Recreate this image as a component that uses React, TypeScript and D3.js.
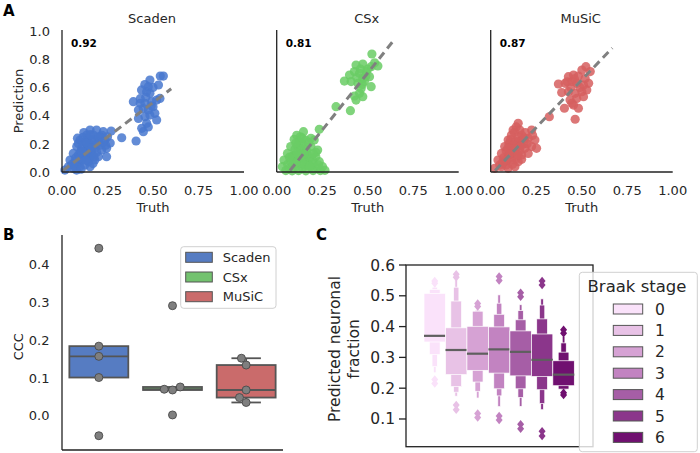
import React from "react";
import * as d3 from "d3";

const FONT = "DejaVu Sans, Verdana, sans-serif";

// ---------- Panel A data ----------
const scatterMethods = ["Scaden", "CSx", "MuSiC"];
const scatterCorr = ["0.92", "0.81", "0.87"];
const scatterColors = ["#4878CF", "#6ACC65", "#D65F5F"];
const axisTicksA = [0, 0.25, 0.5, 0.75, 1.0];
const axisTicksAY = [0, 0.2, 0.4, 0.6, 0.8, 1.0];

const scadenPoints: [number, number][] = [
  [0.540, 0.680], [0.557, 0.680], [0.483, 0.652], [0.474, 0.605], [0.530, 0.617], [0.437, 0.582],
  [0.465, 0.570], [0.483, 0.558], [0.392, 0.499], [0.430, 0.487], [0.456, 0.487], [0.493, 0.500],
  [0.520, 0.510], [0.538, 0.522], [0.420, 0.440], [0.447, 0.450], [0.474, 0.440], [0.500, 0.463],
  [0.420, 0.380], [0.456, 0.392], [0.483, 0.404], [0.520, 0.369], [0.510, 0.416], [0.438, 0.310],
  [0.474, 0.320], [0.447, 0.286], [0.465, 0.345], [0.328, 0.243], [0.407, 0.220], [0.460, 0.530],
  [0.490, 0.470], [0.430, 0.520], [0.500, 0.600], [0.455, 0.620],
  [0.227, 0.286], [0.190, 0.298], [0.154, 0.298], [0.172, 0.262], [0.209, 0.250], [0.136, 0.262],
  [0.099, 0.227], [0.126, 0.215], [0.163, 0.227], [0.200, 0.215], [0.236, 0.227], [0.245, 0.168],
  [0.081, 0.180], [0.108, 0.168], [0.145, 0.180], [0.181, 0.168], [0.218, 0.156], [0.062, 0.132],
  [0.090, 0.120], [0.126, 0.132], [0.163, 0.120], [0.200, 0.109], [0.245, 0.109], [0.044, 0.085],
  [0.071, 0.073], [0.108, 0.085], [0.145, 0.073], [0.180, 0.085], [0.035, 0.038], [0.062, 0.026],
  [0.099, 0.038], [0.154, 0.038], [0.080, 0.014], [0.016, 0.014], [0.090, 0.203], [0.117, 0.190],
  [0.150, 0.200], [0.185, 0.195], [0.210, 0.190], [0.130, 0.150], [0.160, 0.145], [0.190, 0.140],
  [0.100, 0.140], [0.075, 0.100], [0.115, 0.105], [0.150, 0.100], [0.055, 0.055], [0.090, 0.060],
  [0.125, 0.050], [0.170, 0.060], [0.140, 0.240], [0.175, 0.235], [0.115, 0.245], [0.220, 0.260],
  [0.270, 0.290], [0.250, 0.250], [0.265, 0.205], [0.240, 0.190], [0.120, 0.280], [0.085, 0.240],
  [0.135, 0.205], [0.165, 0.170], [0.140, 0.125], [0.110, 0.145], [0.175, 0.110], [0.095, 0.095],
  [0.130, 0.085], [0.070, 0.045], [0.105, 0.020], [0.200, 0.250], [0.155, 0.265], [0.225, 0.210],
];
const csxPoints: [number, number][] = [
  [0.523, 0.837], [0.436, 0.759], [0.473, 0.766], [0.519, 0.747], [0.556, 0.752], [0.538, 0.775],
  [0.400, 0.688], [0.427, 0.712], [0.455, 0.700], [0.492, 0.712], [0.510, 0.676], [0.473, 0.664],
  [0.372, 0.645], [0.409, 0.641], [0.446, 0.629], [0.482, 0.641], [0.464, 0.593], [0.519, 0.605],
  [0.455, 0.558], [0.473, 0.534], [0.436, 0.510], [0.427, 0.539], [0.326, 0.463], [0.405, 0.435],
  [0.460, 0.730], [0.500, 0.730], [0.440, 0.670], [0.490, 0.680], [0.470, 0.620],
  [0.234, 0.303], [0.147, 0.286], [0.188, 0.239], [0.096, 0.232], [0.123, 0.215], [0.160, 0.227],
  [0.206, 0.227], [0.077, 0.180], [0.114, 0.184], [0.151, 0.168], [0.188, 0.180], [0.225, 0.156],
  [0.059, 0.132], [0.096, 0.120], [0.133, 0.132], [0.170, 0.120], [0.215, 0.109], [0.234, 0.073],
  [0.040, 0.085], [0.077, 0.073], [0.114, 0.085], [0.160, 0.073], [0.197, 0.085], [0.031, 0.038],
  [0.068, 0.026], [0.105, 0.038], [0.142, 0.026], [0.188, 0.038], [0.225, 0.026], [0.252, 0.038],
  [0.130, 0.250], [0.110, 0.260], [0.140, 0.200], [0.175, 0.205], [0.100, 0.160], [0.130, 0.165],
  [0.165, 0.150], [0.085, 0.110], [0.120, 0.100], [0.150, 0.095], [0.180, 0.100], [0.060, 0.055],
  [0.090, 0.050], [0.125, 0.060], [0.160, 0.050], [0.200, 0.060], [0.050, 0.010], [0.085, 0.008],
  [0.120, 0.010], [0.160, 0.008], [0.200, 0.010], [0.240, 0.010], [0.265, 0.012], [0.215, 0.140],
  [0.105, 0.205], [0.140, 0.240], [0.155, 0.130], [0.200, 0.130], [0.110, 0.135], [0.140, 0.060],
  [0.180, 0.040], [0.105, 0.065], [0.070, 0.105], [0.230, 0.050],
];
const musicPoints: [number, number][] = [
  [0.523, 0.747], [0.547, 0.712], [0.501, 0.723], [0.427, 0.676], [0.455, 0.688], [0.482, 0.681],
  [0.519, 0.664], [0.372, 0.624], [0.409, 0.629], [0.446, 0.641], [0.473, 0.629], [0.510, 0.617],
  [0.538, 0.629], [0.390, 0.563], [0.427, 0.570], [0.464, 0.558], [0.501, 0.570], [0.528, 0.582],
  [0.436, 0.511], [0.473, 0.522], [0.510, 0.534], [0.455, 0.475], [0.482, 0.452], [0.446, 0.487],
  [0.405, 0.452], [0.322, 0.392], [0.464, 0.374], [0.440, 0.600], [0.490, 0.600], [0.460, 0.660],
  [0.420, 0.640],
  [0.151, 0.345], [0.123, 0.298], [0.160, 0.298], [0.114, 0.262], [0.170, 0.262], [0.225, 0.298],
  [0.096, 0.227], [0.133, 0.215], [0.170, 0.227], [0.206, 0.239], [0.243, 0.227], [0.077, 0.180],
  [0.114, 0.168], [0.151, 0.180], [0.188, 0.168], [0.225, 0.180], [0.252, 0.168], [0.059, 0.132],
  [0.096, 0.120], [0.133, 0.132], [0.170, 0.120], [0.206, 0.132], [0.040, 0.085], [0.077, 0.073],
  [0.114, 0.085], [0.151, 0.073], [0.022, 0.026], [0.059, 0.038], [0.096, 0.026], [0.133, 0.038],
  [0.140, 0.320], [0.130, 0.280], [0.150, 0.250], [0.100, 0.200], [0.140, 0.190], [0.180, 0.200],
  [0.085, 0.150], [0.120, 0.145], [0.160, 0.150], [0.070, 0.100], [0.105, 0.100], [0.140, 0.095],
  [0.050, 0.050], [0.085, 0.050], [0.120, 0.055], [0.170, 0.090], [0.200, 0.200], [0.230, 0.260],
  [0.190, 0.280], [0.110, 0.230], [0.150, 0.215], [0.185, 0.240], [0.125, 0.190], [0.165, 0.185],
  [0.095, 0.170], [0.135, 0.165], [0.105, 0.130], [0.150, 0.120], [0.085, 0.085], [0.065, 0.065],
];
const scatterPoints = [scadenPoints, csxPoints, musicPoints];
// regression lines: [x start, x end], slope, intercept
const fitRange: [number, number][] = [[0.005, 0.6], [0.073, 0.635], [0.024, 0.668]];
const fitSlope = [0.975, 1.62, 1.35];
const fitIntercept = [0.005, -0.108, -0.022];

// ---------- Panel B data ----------
const cccMethods = ["Scaden", "CSx", "MuSiC"];
const cccScaden = [0.443, 0.184, 0.157, 0.101, -0.053];
const cccCSx = [0.291, 0.076, 0.070, 0.068, 0.002];
const cccMuSiC = [0.152, 0.134, 0.068, 0.048, 0.035];
const cccValues = [cccScaden, cccCSx, cccMuSiC];
const cccTicks = [0.0, 0.1, 0.2, 0.3, 0.4];

// ---------- Panel C data ----------
const braakStages = ["0", "1", "2", "3", "4", "5", "6"];
const braakColors = ["#fae2fa", "#e8c2e6", "#d6a2d4", "#c283c1", "#a65ea6", "#8b368b", "#701070"];
const braakMedian = [0.370, 0.324, 0.312, 0.326, 0.318, 0.292, 0.244];
const braakLower = [
  [0.350, 0.309, 0.270, 0.250],
  [0.244, 0.205, 0.187, 0.174],
  [0.258, 0.220, 0.190, 0.168],
  [0.249, 0.198, 0.175, 0.140],
  [0.240, 0.198, 0.170, 0.141],
  [0.238, 0.195, 0.150, 0.130],
  [0.208, 0.197, 0.195, 0.193],
];
const braakUpper = [
  [0.508, 0.521, 0.528, 0.533],
  [0.396, 0.483, 0.528, 0.552],
  [0.401, 0.450, 0.453, 0.456],
  [0.399, 0.440, 0.476, 0.503],
  [0.386, 0.422, 0.452, 0.471],
  [0.376, 0.425, 0.470, 0.490],
  [0.289, 0.317, 0.347, 0.368],
];
const braakOutliers = [
  [0.548, 0.541, 0.228, 0.215],
  [0.570, 0.560, 0.145, 0.130],
  [0.475, 0.465, 0.118, 0.105],
  [0.563, 0.550, 0.110, 0.097],
  [0.510, 0.497, 0.083, 0.068],
  [0.548, 0.535, 0.060, 0.045],
  [0.390, 0.378, 0.185, 0.178],
];
const braakTicks = [0.1, 0.2, 0.3, 0.4, 0.5, 0.6];

function desat(c: string, f: number) {
  const h = d3.hsl(c);
  h.s *= f;
  return h.formatHex();
}

function swarm(vals: number[], y: (v: number) => number, d: number) {
  const sorted = [...vals].sort((a, b) => a - b);
  const placed: { x: number; y: number; v: number }[] = [];
  for (const v of sorted) {
    const py = y(v);
    const cands = [0];
    for (const p of placed) {
      const dy = Math.abs(p.y - py);
      if (dy < d) {
        const dx = Math.sqrt(d * d - dy * dy);
        cands.push(p.x - dx, p.x + dx);
      }
    }
    cands.sort((a, b) => Math.abs(a) - Math.abs(b) || a - b);
    const ok = cands.find((c) => placed.every((p) => Math.hypot(p.x - c, p.y - py) >= d - 1e-6));
    placed.push({ x: ok ?? 0, y: py, v });
  }
  return placed;
}

const diamond = (cx: number, cy: number, w: number, h: number) =>
  `M${cx},${cy - h / 2}L${cx + w / 2},${cy}L${cx},${cy + h / 2}L${cx - w / 2},${cy}Z`;

export default function App() {
  const txt = "#262626";
  // ---------- Panel A ----------
  const panelX0 = [62, 276.7, 490.7];
  const yA = d3.scaleLinear().domain([0, 1]).range([172, 31]);
  const panelA = scatterMethods.map((m, i) => {
    const x = d3.scaleLinear().domain([0, 1]).range([panelX0[i], panelX0[i] + 182]);
    const cx = (panelX0[i] + panelX0[i] + 182) / 2;
    const [fx0, fx1] = fitRange[i];
    const line = d3.line<number>().x((t) => x(t)).y((t) => yA(fitSlope[i] * t + fitIntercept[i]));
    return (
      <g key={m}>
        <text x={cx - 1} y={23} textAnchor="middle" fontSize={13} fill={txt}>{m}</text>
        {scatterPoints[i].map(([t, p], j) => (
          <circle key={j} cx={x(t)} cy={yA(p)} r={4.6} fill={scatterColors[i]} fillOpacity={0.85} />
        ))}
        <path d={line([fx0, fx1]) || ""} stroke="#808080" strokeWidth={3} strokeDasharray="8,5" fill="none" />
        <text x={panelX0[i] + 9} y={47} fontSize={10.5} fontWeight="bold" fill="#000">{scatterCorr[i]}</text>
        <line x1={x(0)} x2={x(0)} y1={30} y2={172} stroke="#222" strokeWidth={1.3} />
        <line x1={x(0)} x2={x(1)} y1={172} y2={172} stroke="#222" strokeWidth={1.3} />
        {axisTicksA.map((t) => (
          <text key={t} x={x(t)} y={195} textAnchor="middle" fontSize={13} fill={txt}>{t.toFixed(2)}</text>
        ))}
        <text x={cx} y={212} textAnchor="middle" fontSize={13} fill={txt}>Truth</text>
        {i === 0 && axisTicksAY.map((t) => (
          <text key={t} x={50} y={yA(t) + 4.7} textAnchor="end" fontSize={13} fill={txt}>{t.toFixed(1)}</text>
        ))}
      </g>
    );
  });

  // ---------- Panel B ----------
  const xB = d3.scaleBand<string>().domain(cccMethods).range([62, 283]).padding(0);
  const yB = d3.scaleLinear().domain([0, 0.4]).range([415.7, 264.5]);
  const boxW = xB.bandwidth() * 0.8;
  const edge = "#555555";
  const panelB = cccMethods.map((m, i) => {
    const vals = [...cccValues[i]].sort((a, b) => a - b);
    const q1 = d3.quantile(vals, 0.25)!;
    const med = d3.quantile(vals, 0.5)!;
    const q3 = d3.quantile(vals, 0.75)!;
    const iqr = q3 - q1;
    const lo = d3.min(vals.filter((v) => v >= q1 - 1.5 * iqr))!;
    const hi = d3.max(vals.filter((v) => v <= q3 + 1.5 * iqr))!;
    const cx = xB(m)! + xB.bandwidth() / 2;
    const fill = desat(scatterColors[i], 0.8);
    const pts = swarm(vals, (v) => yB(v), 8.3);
    const capW = boxW / 2;
    return (
      <g key={m}>
        {hi > q3 && <line x1={cx} x2={cx} y1={yB(q3)} y2={yB(hi)} stroke={edge} strokeWidth={1.8} />}
        {hi > q3 && <line x1={cx - capW / 2} x2={cx + capW / 2} y1={yB(hi)} y2={yB(hi)} stroke={edge} strokeWidth={1.8} />}
        {lo < q1 && <line x1={cx} x2={cx} y1={yB(q1)} y2={yB(lo)} stroke={edge} strokeWidth={1.8} />}
        {lo < q1 && <line x1={cx - capW / 2} x2={cx + capW / 2} y1={yB(lo)} y2={yB(lo)} stroke={edge} strokeWidth={1.8} />}
        <rect x={cx - boxW / 2} y={yB(q3)} width={boxW} height={Math.max(yB(q1) - yB(q3), 1)} fill={fill} stroke={edge} strokeWidth={1.8} />
        <line x1={cx - boxW / 2} x2={cx + boxW / 2} y1={yB(med)} y2={yB(med)} stroke={edge} strokeWidth={1.8} />
        {pts.map((p, j) => (
          <circle key={j} cx={cx + p.x} cy={p.y} r={4} fill="#7f7f7f" stroke="#4a4a4a" strokeWidth={0.9} />
        ))}
      </g>
    );
  });

  // ---------- Panel C ----------
  const yC = d3.scaleLinear().domain([0.01, 0.6]).range([446.7, 265]);
  const xC = d3.scaleBand<string>().domain(braakStages).range([424, 574.3]).padding(0);
  const bw = xC.bandwidth();
  const panelC = braakStages.map((s, i) => {
    const cx = xC(s)! + bw / 2;
    const col = braakColors[i];
    const levels = braakLower[i].map((lo, k) => ({ lo, hi: braakUpper[i][k], w: bw / Math.pow(2, k) }));
    return (
      <g key={s}>
        {levels.slice().reverse().map((lv, k) => (
          <rect key={k} x={cx - lv.w / 2} y={yC(lv.hi)} width={lv.w} height={yC(lv.lo) - yC(lv.hi)} fill={col} stroke="#ffffff" strokeWidth={0.7} />
        ))}
        <line x1={cx - bw / 2} x2={cx + bw / 2} y1={yC(braakMedian[i])} y2={yC(braakMedian[i])} stroke="#5f5f5f" strokeWidth={2.2} />
        {braakOutliers[i].map((v, j) => (
          <path key={j} d={diamond(cx, yC(v), 7, 8.5)} fill={col} />
        ))}
      </g>
    );
  });

  return (
    <svg width={700} height={453} style={{ position: "absolute", left: 0, top: 0, background: "#fff" }} fontFamily={FONT}>
      <rect x={0} y={0} width={700} height={453} fill="#fff" />
      {/* Panel labels */}
      <text x={3} y={16} fontSize={15} fontWeight="bold" fill="#000">A</text>
      <text x={3} y={240} fontSize={15} fontWeight="bold" fill="#000">B</text>
      <text x={316} y={240} fontSize={15} fontWeight="bold" fill="#000">C</text>

      {/* Panel A */}
      <text transform={`translate(22.5,101) rotate(-90)`} textAnchor="middle" fontSize={13} fill={txt}>Prediction</text>
      {panelA}

      {/* Panel B */}
      <line x1={62} x2={62} y1={235} y2={450} stroke="#222" strokeWidth={1.3} />
      <line x1={62} x2={283} y1={450} y2={450} stroke="#222" strokeWidth={1.3} />
      {cccTicks.map((t) => (
        <text key={t} x={49.5} y={yB(t) + 4.6} textAnchor="end" fontSize={13} fill={txt}>{t.toFixed(1)}</text>
      ))}
      <text transform={`translate(22.5,346.7) rotate(-90)`} textAnchor="middle" fontSize={13} fill={txt}>CCC</text>
      {panelB}
      <rect x={180.7} y={246.7} width={95.3} height={61.6} rx={3} fill="#fff" fillOpacity={0.85} stroke="#d0d0d0" strokeWidth={1} />
      {cccMethods.map((m, i) => (
        <g key={m}>
          <rect x={185.7} y={257.3 + i * 19.7 - 5} width={26.6} height={10} fill={desat(scatterColors[i], 0.8)} stroke={edge} strokeWidth={1} />
          <text x={222.7} y={257.3 + i * 19.7 + 4.6} fontSize={13} fill={txt}>{m}</text>
        </g>
      ))}

      {/* Panel C */}
      {panelC}
      <rect x={406} y={265} width={187} height={181.7} fill="none" stroke="#222" strokeWidth={1.3} />
      {braakTicks.map((t) => (
        <g key={t}>
          <line x1={399} x2={406} y1={yC(t)} y2={yC(t)} stroke="#222" strokeWidth={1.3} />
          <text x={395} y={yC(t) + 5.5} textAnchor="end" fontSize={15.5} fill={txt}>{t.toFixed(1)}</text>
        </g>
      ))}
      <text transform={`translate(340,349) rotate(-90)`} textAnchor="middle" fontSize={15.5} fill={txt}>Predicted neuronal</text>
      <text transform={`translate(359,349) rotate(-90)`} textAnchor="middle" fontSize={15.5} fill={txt}>fraction</text>
      <rect x={579.3} y={272.3} width={118} height={179.4} rx={3} fill="#fff" fillOpacity={0.8} stroke="#d0d0d0" strokeWidth={1} />
      <text x={637} y={291.5} textAnchor="middle" fontSize={16.5} fill={txt}>Braak stage</text>
      {braakStages.map((s, i) => (
        <g key={s}>
          <rect x={613.3} y={309 + i * 21.4 - 5} width={29.4} height={10} fill={braakColors[i]} stroke="#555" strokeWidth={1} />
          <text x={655} y={309 + i * 21.4 + 5.5} fontSize={15.5} fill={txt}>{s}</text>
        </g>
      ))}
    </svg>
  );
}
